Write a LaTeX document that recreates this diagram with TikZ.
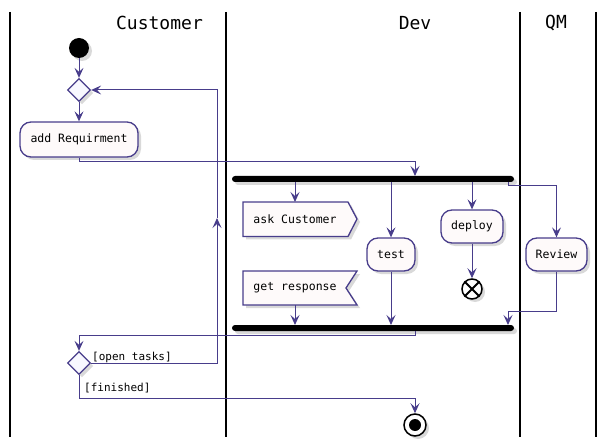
\documentclass[tikz,border=0pt]{standalone}
\usepackage{fontspec}
\setmainfont{DejaVu Sans Mono}
\usetikzlibrary{shapes.geometric,arrows.meta,shadows}
\definecolor{ln}{HTML}{483D8B}
\definecolor{boxfill}{HTML}{FEFAFA}
\definecolor{dfill}{HTML}{F8F8FF}
\tikzset{
  lane/.style={line width=1.5pt,black},
  conn/.style={ln,line width=1pt},
  arr/.style={conn,-{Stealth[length=10pt,width=9pt,inset=4pt]}},
  shad/.style={drop shadow={shadow xshift=3pt,shadow yshift=-3pt,opacity=0.3}},
  actbox/.style={draw=ln,line width=1.3pt,fill=boxfill,rounded corners=11pt,shad,font=\fontsize{11.5}{13}\selectfont,inner sep=0pt},
  decision/.style={diamond,draw=ln,line width=1.3pt,fill=dfill,minimum width=23pt,minimum height=23pt,inner sep=0pt,shad},
  bar/.style={rectangle,fill=black,rounded corners=3pt,minimum width=282pt,minimum height=6pt,inner sep=0pt,shad},
  lanetitle/.style={font=\fontsize{18}{20}\selectfont},
  guard/.style={font=\fontsize{11}{12}\selectfont,inner sep=0pt,anchor=west},
  plain/.style={font=\fontsize{11.5}{13}\selectfont,inner sep=0pt}
}
\begin{document}
\begin{tikzpicture}[x=1pt,y=-1pt]
\useasboundingbox (0,0) rectangle (607,446);
% lanes
\draw[lane] (10,12) -- (10,437);
\draw[lane] (226,12) -- (226,437);
\draw[lane] (520,12) -- (520,437);
\draw[lane] (596,12) -- (596,437);
\node[lanetitle] (tcust) at (159.5,23) {Customer};
\node[lanetitle] (tdev) at (415,23) {Dev};
\node[lanetitle] (tqm) at (556,23) {QM};
% nodes
\node[circle,fill=black,minimum size=20pt,inner sep=0pt,shad] (start) at (79,48) {};
\node[decision] (d1) at (79,90) {};
\node[actbox,minimum width=118pt,minimum height=35pt] (add) at (79,139.5) {add Requirment};
\node[bar] (fork) at (373,179) {};
% ask Customer (send signal)
\filldraw[draw=ln,fill=boxfill,line width=1.3pt,shad] (243,202) -- (348,202) -- (357,219) -- (348,236.5) -- (243,236.5) -- cycle;
\node[plain] (ask) at (295,219) {ask Customer};
% get response (receive signal)
\filldraw[draw=ln,fill=boxfill,line width=1.3pt,shad] (243,271) -- (357,271) -- (346,288) -- (357,305) -- (243,305) -- cycle;
\node[plain] (get) at (295,288) {get response};
\node[actbox,minimum width=48pt,minimum height=33pt] (test) at (391,254.5) {test};
\node[actbox,minimum width=62pt,minimum height=33pt] (deploy) at (472,226.5) {deploy};
\node[circle,draw=black,fill=white,line width=1.5pt,minimum size=20pt,inner sep=0pt,shad] (cross) at (472,289) {};
\draw[black,line width=1.8pt] (cross.north east) -- (cross.south west) (cross.north west) -- (cross.south east);
\node[actbox,minimum width=61pt,minimum height=33pt] (review) at (556.5,254.5) {Review};
\node[bar] (join) at (373,328) {};
\node[decision] (d2) at (79,363) {};
\node[circle,draw=black,fill=white,line width=1.5pt,minimum size=22pt,inner sep=0pt,shad] (stop) at (415,425) {};
\node[circle,fill=black,minimum size=12pt,inner sep=0pt] (stopin) at (stop.center) {};
% connectors
\draw[arr] (start) -- (d1.north);
\draw[arr] (d1.south) -- (add.north);
\draw[arr] (add.south) -- (79,162) -- (415,162) -- (415,176);
\draw[arr] (295,182) -- (295,202);
\draw[arr] (295,305) -- (295,325);
\draw[arr] (391,182) -- (test.north);
\draw[arr] (test.south) -- (391,325);
\draw[arr] (472,182) -- (deploy.north);
\draw[arr] (deploy.south) -- (cross.north);
\draw[arr] (508,182) -- (508,185.5) -- (556.5,185.5) -- (review.north);
\draw[arr] (review.south) -- (556.5,311) -- (508,311) -- (508,325);
\draw[arr] (415,331) -- (415,335.5) -- (79,335.5) -- (d2.north);
\coordinate (mid) at (217,218);
\draw[arr] (d2.east) -- (217,363) -- (mid);
\draw[arr] (mid) -- (217,90) -- (d1.east);
\draw[arr] (d2.south) -- (79,398.5) -- (415,398.5) -- (stop.north);
% guards
\node[guard] (gopen) at (92,357) {[open tasks]};
\node[guard] (gfin) at (84,388) {[finished]};
\end{tikzpicture}
\end{document}
